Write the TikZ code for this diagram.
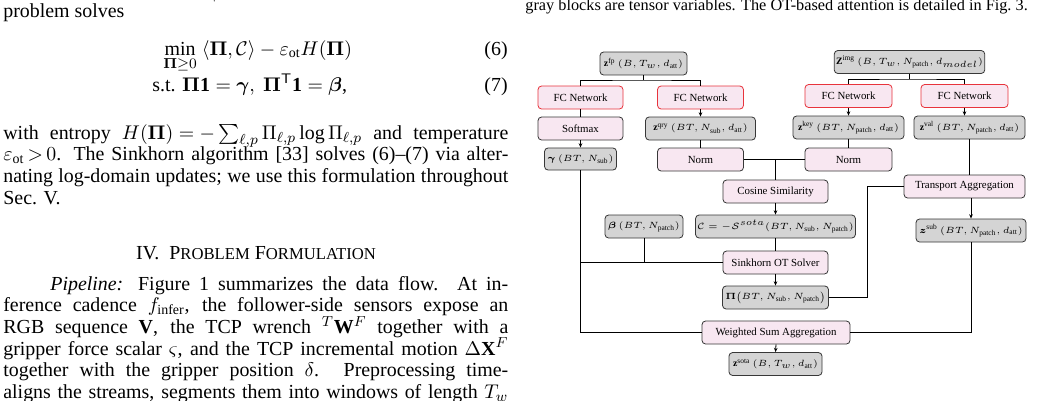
\documentclass[tikz,border=0pt]{standalone}
\usepackage{amsmath,amssymb}
\usepackage{fontspec}
\setmainfont{Liberation Serif}
\usetikzlibrary{arrows.meta}
\DeclareMathSizes{5.4}{5.4}{4.1}{3.5}
\definecolor{opfill}{HTML}{F8E7F1}
\definecolor{varfill}{HTML}{D4D4D4}
\definecolor{edgecol}{HTML}{383838}
\definecolor{fcred}{HTML}{E8343C}
\newcommand\jl[2]{\makebox[#1pt][s]{#2}}
\newcommand\mm[1]{{\fontsize{5.4}{6}\selectfont$#1$}}
\thickmuskip=5mu
\medmuskip=4mu
\thinmuskip=3mu
\begin{document}
\begin{tikzpicture}[x=0.5525pt,y=-0.5525pt,
  every node/.style={inner sep=0pt},
  blk/.style={draw=edgecol, line width=0.45pt, rounded corners=2pt, minimum height=12.7pt, font=\fontsize{6}{7}\selectfont, inner sep=1pt},
  op/.style={blk, fill=opfill},
  var/.style={blk, fill=varfill},
  fc/.style={op, draw=fcred},
  bw/.style={minimum width=#1*0.5525pt},
  ln/.style={line width=0.45pt, draw=black},
  ar/.style={ln, -{Stealth[length=2.4pt,width=2pt]}},
  body/.style={anchor=base west, font=\fontsize{11}{13}\selectfont},
  captext/.style={anchor=base west, font=\fontsize{9}{10.5}\selectfont},
]
\clip (0,0) rectangle (1041,400);
\fill[white] (0,0) rectangle (1041,400);

% ---------------- left column text ----------------
\node[body] (t0) at (3,-4.5) {\jl{279}{and a capacity $\boldsymbol{\beta}\in\mathbb{R}^{N_{\mathrm{patch}}}_{+}$, the entropy-regularized OT}};
\node[body] (t1) at (3,17) {problem solves};
\node[body] (e6) at (163,55) {$\displaystyle\min_{\boldsymbol{\Pi}\ge 0}\ \langle\boldsymbol{\Pi},\mathcal{C}\rangle-\varepsilon_{\mathrm{ot}}H(\boldsymbol{\Pi})$};
\node[body,anchor=base east] (n6) at (508,55) {(6)};
\node[body] (e7) at (152,91) {s.t. $\boldsymbol{\Pi}\mathbf{1}=\boldsymbol{\gamma},\ \boldsymbol{\Pi}^{\mathsf{T}}\mathbf{1}=\boldsymbol{\beta}$,};
\node[body,anchor=base east] (n7) at (508,91) {(7)};
\node[body] (t2) at (3,139) {\jl{279}{with entropy $H(\boldsymbol{\Pi})=-\sum_{\ell,p}\Pi_{\ell,p}\log\Pi_{\ell,p}$ and temperature}};
\node[body] (t3) at (3,160.7) {\jl{279}{$\varepsilon_{\mathrm{ot}}\,{>}\,0$. The Sinkhorn algorithm [33] solves (6)--(7) via alter-}};
\node[body] (t4) at (3,182.4) {\jl{279}{nating log-domain updates; we use this formulation throughout}};
\node[body] (t5) at (3,204) {Sec. V.};
\node[body,anchor=base] (h4) at (256,259) {IV.\ \ P{\fontsize{9.2}{10}\selectfont ROBLEM} F{\fontsize{9.2}{10}\selectfont ORMULATION}};
\node[body] (p1) at (50,290) {\jl{253}{\textit{Pipeline:} Figure 1 summarizes the data flow. At in-}};
\node[body] (p2) at (3,311.7) {\jl{279}{ference cadence $f_{\mathrm{infer}}$, the follower-side sensors expose an}};
\node[body] (p3) at (3,333.4) {\jl{279}{RGB sequence $\mathbf{V}$, the TCP wrench ${}^{T}\mathbf{W}^{F}$ together with a}};
\node[body] (p4) at (3,355.1) {\jl{279}{gripper force scalar $\varsigma$, and the TCP incremental motion $\Delta\mathbf{X}^{F}$}};
\node[body] (p5) at (3,376.8) {\jl{279}{together with the gripper position $\delta$. Preprocessing time-}};
\node[body] (p6) at (3,398.5) {\jl{279}{aligns the streams, segments them into windows of length $T_w$}};

% ---------------- caption ----------------
\node[captext] (cp) at (525,10) {gray blocks are tensor variables. The OT-based attention is detailed in Fig.~3.};

% ---------------- diagram ----------------
\node[var,bw=87] (zfp) at (643.5,63.5) {\mm{\mathbf{z}^{\mathrm{fp}}\ (B,T_w,d_{\mathrm{att}})}};
\node[fc,bw=85] (fc1) at (580.5,97.5) {FC Network};
\node[fc,bw=86] (fc2) at (700.5,97.5) {FC Network};
\node[op,bw=85] (soft) at (580.5,128.5) {Softmax};
\node[var,bw=110] (zqry) at (700.5,128.5) {\mm{\mathbf{z}^{\mathrm{qry}}\ (BT,N_{\mathrm{sub}},d_{\mathrm{att}})}};
\node[var,bw=72,minimum height=12.2pt] (gam) at (580.5,159) {\mm{\boldsymbol{\gamma}\ (BT,N_{\mathrm{sub}})}};
\node[op,bw=86] (norm1) at (700.5,159.5) {Norm};

\node[var,bw=145] (zimg) at (909.5,62) {\mm{\mathbf{Z}^{\mathrm{img}}\ (B,T_w,N_{\mathrm{patch}},d_{model})}};
\node[fc,bw=87] (fc3) at (848.5,96) {FC Network};
\node[fc,bw=87] (fc4) at (964.5,96) {FC Network};
\node[var,bw=111] (zkey) at (848.5,127.5) {\mm{\mathbf{z}^{\mathrm{key}}\ (BT,N_{\mathrm{patch}},d_{\mathrm{att}})}};
\node[var,bw=111] (zval) at (969.5,127.5) {\mm{\mathbf{z}^{\mathrm{val}}\ (BT,N_{\mathrm{patch}},d_{\mathrm{att}})}};
\node[op,bw=87] (norm2) at (848.5,159.5) {Norm};

\node[op,bw=105] (cos) at (775.5,191.5) {Cosine Similarity};
\node[var,bw=143] (C) at (775.5,226.5) {\mm{\mathcal{C}=-\mathcal{S}^{sota}(BT,N_{\mathrm{sub}},N_{\mathrm{patch}})}};
\node[var,bw=78] (beta) at (644,226.5) {\mm{\boldsymbol{\beta}\,(BT,N_{\mathrm{patch}})}};
\node[op,bw=105] (sink) at (775.5,262.5) {Sinkhorn OT Solver};
\node[var,bw=106] (Pi) at (775.5,297.5) {\mm{\boldsymbol{\Pi}\bigl(BT,N_{\mathrm{sub}},N_{\mathrm{patch}}\bigr)}};
\node[op,bw=121] (ta) at (964.5,186.5) {Transport Aggregation};
\node[var,bw=110] (zsub) at (971,230.5) {\mm{\boldsymbol{z}^{\mathrm{sub}}\ (BT,N_{\mathrm{patch}},d_{\mathrm{att}})}};
\node[op,bw=148] (ws) at (776,332.5) {Weighted Sum Aggregation};
\node[var,bw=93] (zsota) at (775.5,364) {\mm{\mathbf{z}^{\mathrm{sota}}\ (B,T_w,d_{\mathrm{att}})}};

\coordinate (s1) at (643.5,80);
\coordinate (s2) at (909.5,79);
\coordinate (m1) at (775.5,159.5);
\coordinate (pr) at (867,186.5);

\draw[ln] (zfp.south) -- (s1);
\draw[ln] (fc1.north) |- (s1) -| (fc2.north);
\draw[ln] (zimg.south) -- (s2);
\draw[ln] (fc3.north) |- (s2) -| (fc4.north);

\draw[ln] (fc1.south) -- (soft.north);
\draw[ar] (soft.south) -- (gam.north);
\draw[ar] (fc2.south) -- (zqry.north);
\draw[ln] (zqry.south) -- (norm1.north);
\draw[ar] (fc3.south) -- (zkey.north);
\draw[ar] (fc4.south) -- (fc4.south |- zval.north);
\draw[ln] (zkey.south) -- (norm2.north);
\draw[ln] (norm1.east) -- (norm2.west);
\draw[ln] (m1) -- (cos.north);
\draw[ar] (cos.south) -- (C.north);
\draw[ln] (C.south) -- (sink.north);
\draw[ar] (sink.south) -- (Pi.north);
\draw[ln] (gam.south) |- (ws.west);
\draw[ln] (sink.west) -- (sink.west -| gam.south);
\draw[ln] (beta.south) -- (beta.south |- sink.west);
\draw[ln] (zval.south) -- (zval.south |- ta.north);
\draw[ar] (zsub.north |- ta.south) -- (zsub.north);
\draw[ln] (zsub.south) |- (ws.east);
\draw[ln] (Pi.east) -| (pr) -- (ta.west);
\draw[ar] (ws.south) -- (zsota.north);
\end{tikzpicture}
\end{document}
